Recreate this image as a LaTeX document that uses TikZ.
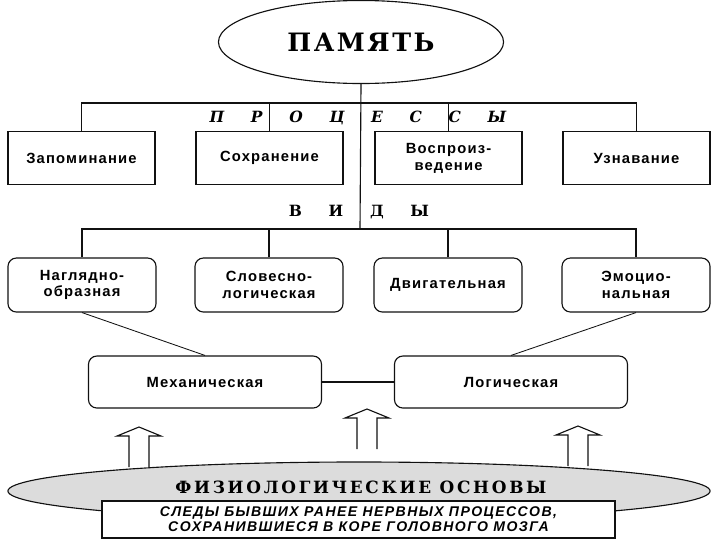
\documentclass[tikz,border=0pt]{standalone}
\usepackage{fontspec}
\setmainfont{Liberation Sans}
\newfontfamily\titlefont{DejaVu Serif}
\usepackage{tikz}
\usetikzlibrary{shapes.geometric,positioning,calc}
\definecolor{ink}{HTML}{111111}
\definecolor{stone}{HTML}{DCDCDC}
\newcommand{\lgap}{\hspace{19pt}}
\tikzset{
  % Central ellipse
  core/.style={draw=ink,thick,ellipse,fill=white,minimum width=7.125cm,
               minimum height=2.075cm,inner sep=0pt,
               font=\titlefont\bfseries\fontsize{18}{20}\selectfont\addfontfeature{LetterSpace=10}},
  % Processes (plain boxes)
  procbox/.style={draw=ink,thick,fill=white,minimum width=3.675cm,
                  minimum height=1.33cm,align=center,inner sep=2pt,
                  font=\bfseries\fontsize{10.5}{12}\selectfont\addfontfeature{LetterSpace=8}},
  % Kinds (rounded boxes)
  kindbox/.style={procbox,rounded corners=6pt,minimum width=3.7cm,minimum height=1.35cm},
  basisbox/.style={kindbox,minimum width=5.825cm,minimum height=1.3cm},
  % Physiological basis
  physell/.style={draw=ink,thick,ellipse,fill=stone,minimum width=17.55cm,
                  minimum height=1.45cm,inner sep=0pt},
  tracebox/.style={draw=ink,line width=1.6pt,fill=white,minimum width=12.825cm,
                   minimum height=0.925cm,align=center,inner sep=1pt,
                   font=\bfseries\itshape\fontsize{10}{10.5}\selectfont\addfontfeature{LetterSpace=10}},
  % Spaced headings
  spaced/.style={font=\titlefont\bfseries\fontsize{11}{12}\selectfont,inner sep=0pt},
  % Connectors
  ln/.style={draw=ink,thick},
  thin/.style={draw=ink,semithick},
  % Hollow up arrow
  uparr/.pic={\draw[ink,thick,fill=white] (-10,0) -- (-10,-31) -- (-22,-31) -- (0,-40)
              -- (22,-31) -- (10,-31) -- (10,0);}
}

\begin{document}
\begin{tikzpicture}[x=0.025cm,y=-0.025cm]
  \useasboundingbox (0,0) rectangle (720,540);

  % Memory
  \node[core] (pam) at (361,42) {ПАМЯТЬ};

  % Processes
  \node[procbox] (p1) at (81.5,158) {Запоминание};
  \node[procbox] (p2) at (269.5,158) {Сохранение};
  \node[procbox] (p3) at (448.5,158) {Воспроиз-\\ведение};
  \node[procbox] (p4) at (636.5,158) {Узнавание};
  \coordinate (jp) at (360,103);
  \node[spaced,font=\titlefont\bfseries\itshape\fontsize{11}{12}\selectfont] (tproc) at (358,118)
    {П\lgap Р\lgap О\lgap Ц\lgap Е\lgap С\lgap С\lgap Ы};

  % Kinds
  \node[kindbox] (v1) at (82,285) {Наглядно-\\образная};
  \node[kindbox] (v2) at (269,285) {Словесно-\\логическая};
  \node[kindbox] (v3) at (448,285) {Двигательная};
  \node[kindbox] (v4) at (636,285) {Эмоцио-\\нальная};
  \coordinate (jv) at (360,229);
  \node[spaced] (tkind) at (359,212) {В\lgap И\lgap Д\lgap Ы};

  % Mechanical / logical
  \node[basisbox] (mech) at (205,382) {Механическая};
  \node[basisbox] (logic) at (511,382) {Логическая};

  % Physiological basis
  \node[physell] (phys) at (359,491) {};
  \node[font=\titlefont\bfseries\fontsize{12}{14}\selectfont\addfontfeature{LetterSpace=16}]
    (tphys) at (361,487) {ФИЗИОЛОГИЧЕСКИЕ ОСНОВЫ};
  \node[tracebox] (trace) at (358.5,519.5)
    {СЛЕДЫ БЫВШИХ РАНЕЕ НЕРВНЫХ ПРОЦЕССОВ,\\СОХРАНИВШИЕСЯ В КОРЕ ГОЛОВНОГО МОЗГА};

  % Hollow arrows
  \pic at (139,467) {uparr};
  \pic at (367,449) {uparr};
  \pic at (578,466) {uparr};

  % Tree lines
  \draw[ln] (pam.south) -- (jv);
  \draw[ln] (p1.north) |- (jp) -| (p4.north);
  \draw[ln] (p2.north) |- (jp);
  \draw[ln] (p3.north) |- (jp);
  \draw[ln] (v1.north) |- (jv) -| (v4.north);
  \draw[ln] (v2.north) |- (jv);
  \draw[ln] (v3.north) |- (jv);

  % Links
  \draw[thin] (v1.south) -- (mech.north);
  \draw[thin] (v4.south) -- (logic.north);
  \draw[ln] (mech.east) -- (logic.west);
\end{tikzpicture}
\end{document}
